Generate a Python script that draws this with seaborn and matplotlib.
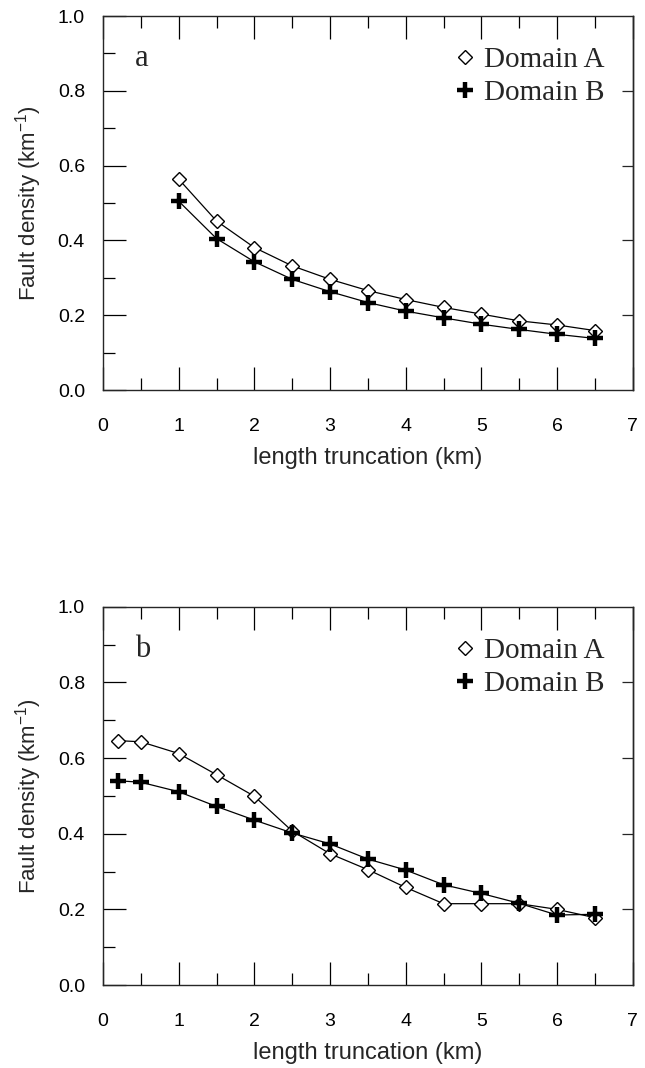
import matplotlib
matplotlib.use("Agg")
import matplotlib.pyplot as plt
import seaborn as sns
import pandas as pd

# Data
x_a = [1.0, 1.5, 2.0, 2.5, 3.0, 3.5, 4.0, 4.5, 5.0, 5.5, 6.0, 6.5]
a_domain_a = [0.564, 0.452, 0.381, 0.332, 0.296, 0.266, 0.242, 0.221, 0.203, 0.185, 0.174, 0.159]
a_domain_b = [0.505, 0.405, 0.343, 0.296, 0.263, 0.234, 0.211, 0.193, 0.176, 0.162, 0.149, 0.138]

x_b = [0.2, 0.5, 1.0, 1.5, 2.0, 2.5, 3.0, 3.5, 4.0, 4.5, 5.0, 5.5, 6.0, 6.5]
b_domain_a = [0.646, 0.643, 0.612, 0.556, 0.499, 0.407, 0.347, 0.305, 0.258, 0.215, 0.215, 0.215, 0.200, 0.178]
b_domain_b = [0.540, 0.536, 0.511, 0.472, 0.436, 0.402, 0.373, 0.333, 0.304, 0.265, 0.242, 0.216, 0.185, 0.187]

x_ticks = [0, 1, 2, 3, 4, 5, 6, 7]
y_ticks = [0.0, 0.2, 0.4, 0.6, 0.8, 1.0]

# Style
sns.set_theme(style="ticks")
plt.rcParams["font.family"] = ["Liberation Sans", "DejaVu Sans"]
plt.rcParams["mathtext.default"] = "regular"
plt.rcParams["axes.linewidth"] = 1.0

SERIF = ["Liberation Serif", "DejaVu Serif"]


def draw_panel(ax, x, ya, yb, letter):
    df = pd.DataFrame({"x": x, "A": ya, "B": yb})
    sns.lineplot(data=df, x="x", y="A", ax=ax, color="black", lw=0.9,
                 marker="D", ms=7.5, mfc="white", mec="black", mew=1.0,
                 label="Domain A")
    sns.lineplot(data=df, x="x", y="B", ax=ax, color="black", lw=0.9,
                 marker="+", ms=12, mew=3.2, mec="black", label="Domain B")

    ax.set_xlim(0, 7)
    ax.set_ylim(0, 1.0)
    ax.set_xticks(x_ticks)
    ax.set_xticks([v + 0.5 for v in x_ticks[:-1]], minor=True)
    ax.set_yticks(y_ticks)
    ax.set_yticklabels([f"{v:.1f}" for v in y_ticks])
    ax.set_yticks([v + 0.1 for v in y_ticks[:-1]], minor=True)
    ax.tick_params(which="both", direction="in", top=True, right=False,
                   colors="black", width=0.9)
    ax.tick_params(which="major", length=16.5, labelsize=14)
    ax.tick_params(axis="x", which="major", pad=20)
    ax.tick_params(axis="y", which="major", pad=13)
    ax.tick_params(which="minor", length=8.5)

    # right side: short major ticks only
    sec = ax.secondary_yaxis("right")
    sec.set_yticks(y_ticks[1:-1])
    sec.tick_params(direction="in", length=8, width=0.9, labelright=False)
    sec.spines["right"].set_linewidth(1.0)

    ax.set_xlabel("length truncation (km)", fontsize=17, labelpad=9)
    ax.set_ylabel("Fault density (km$^{-1}$)", fontsize=16, labelpad=10)

    ax.text(0.061, 0.925, letter, transform=ax.transAxes, fontsize=22,
            family=SERIF, va="top", ha="left")

    leg = ax.legend(loc="upper right", bbox_to_anchor=(0.946, 0.918),
                    frameon=False, prop={"family": SERIF, "size": 21},
                    handlelength=0.6, handletextpad=0.35, borderpad=0,
                    borderaxespad=0, labelspacing=0.22)
    for h in leg.legend_handles:
        h.set_linestyle("none")


fig = plt.figure(figsize=(6.45, 10.68), dpi=100)
ax_a = fig.add_axes([0.1597, 0.6348, 0.8212, 0.3502])
ax_b = fig.add_axes([0.1597, 0.0777, 0.8212, 0.3542])

draw_panel(ax_a, x_a, a_domain_a, a_domain_b, "a")
draw_panel(ax_b, x_b, b_domain_a, b_domain_b, "b")

fig.savefig("out.png", dpi=100)
